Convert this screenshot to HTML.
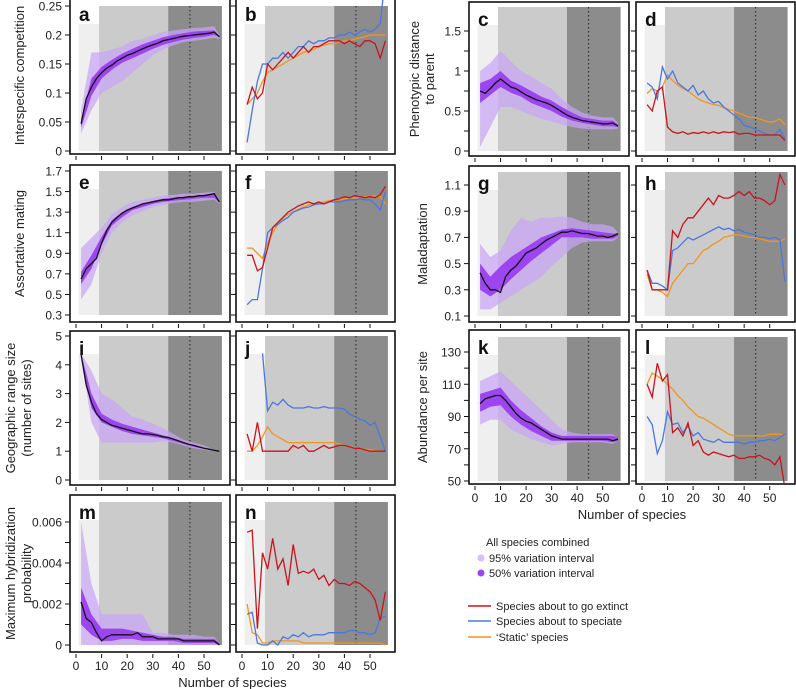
<!DOCTYPE html>
<html><head><meta charset="utf-8"><style>
html,body{margin:0;padding:0;background:#fff;}
svg{display:block;font-family:"Liberation Sans",Arial,sans-serif;}
</style></head><body>
<svg id="fig" width="796" height="689" viewBox="0 0 796 689" xmlns="http://www.w3.org/2000/svg"></svg>
<script>
// ---- data ----
const xs = [2,4,6,8,10,12,14,16,18,20,22,24,26,28,30,32,34,36,38,40,42,44,46,48,50,52,54,56];
const bx = [2,6,10,14,18,22,26,30,34,38,42,46,50,54,56];

const aMean=[.047,.09,.11,.125,.135,.143,.148,.155,.16,.165,.168,.172,.176,.18,.183,.186,.19,.192,.194,.196,.198,.199,.2,.201,.202,.203,.205,.197];
const aLo95=[.03,.07,.1,.11,.12,.135,.15,.165,.175,.182,.188,.19,.192,.195,.193];
const aHi95=[.07,.17,.17,.175,.18,.19,.193,.2,.205,.208,.21,.212,.213,.215,.2];
const aLo50=[.04,.095,.125,.14,.152,.16,.168,.176,.183,.188,.192,.195,.197,.2,.196];
const aHi50=[.055,.125,.145,.157,.168,.176,.184,.19,.196,.2,.203,.206,.207,.208,.198];
const bRed=[.08,.11,.09,.1,.15,.14,.15,.16,.17,.16,.17,.18,.17,.18,.18,.185,.19,.19,.19,.185,.19,.185,.18,.19,.19,.185,.16,.19];
const bBlue=[.015,.07,.12,.15,.15,.16,.16,.17,.16,.17,.18,.18,.19,.185,.19,.19,.195,.195,.2,.2,.205,.2,.205,.21,.205,.21,.22,.3];
const bOrange=[.08,.09,.1,.12,.135,.14,.145,.15,.155,.16,.165,.17,.172,.175,.18,.182,.185,.185,.188,.19,.19,.193,.195,.197,.2,.2,.2,.2];

const cMean=[.75,.72,.78,.85,.9,.85,.8,.78,.74,.7,.67,.64,.62,.6,.57,.53,.49,.45,.42,.4,.38,.37,.36,.35,.34,.34,.35,.31];
const cLo95=[.05,.3,.55,.55,.5,.45,.4,.37,.33,.3,.28,.27,.27,.27,.28];
const cHi95=[1.0,1.1,1.25,1.12,1.0,.93,.85,.78,.65,.55,.48,.44,.42,.42,.35];
const cLo50=[.6,.7,.8,.73,.68,.6,.55,.5,.43,.38,.35,.33,.31,.31,.3];
const cHi50=[.85,.9,1.0,.88,.82,.75,.68,.63,.55,.48,.42,.4,.38,.38,.33];
const dRed=[.58,.5,.75,.8,.3,.24,.22,.24,.21,.23,.22,.24,.22,.24,.22,.24,.23,.24,.21,.22,.22,.2,.2,.2,.2,.2,.2,.13];
const dBlue=[.85,.8,.65,1.05,.9,1.0,.85,.8,.75,.82,.7,.75,.65,.6,.62,.55,.5,.45,.4,.32,.3,.28,.25,.22,.2,.2,.27,.15];
const dOrange=[.72,.78,.75,.8,.95,.88,.82,.78,.75,.7,.65,.62,.6,.58,.57,.54,.52,.5,.47,.45,.42,.42,.4,.38,.36,.37,.4,.33];

const eMean=[.65,.75,.8,.85,1.0,1.12,1.2,1.25,1.29,1.32,1.34,1.36,1.38,1.39,1.4,1.41,1.42,1.42,1.43,1.44,1.44,1.45,1.45,1.46,1.46,1.47,1.48,1.4];
const eLo95=[.45,.6,.9,1.1,1.2,1.27,1.31,1.35,1.37,1.39,1.4,1.4,1.41,1.42,1.38];
const eHi95=[.95,1.05,1.15,1.28,1.35,1.4,1.42,1.44,1.46,1.47,1.48,1.48,1.49,1.5,1.42];
const eLo50=[.6,.75,.98,1.17,1.25,1.32,1.35,1.38,1.4,1.41,1.42,1.43,1.44,1.44,1.39];
const eHi50=[.72,.88,1.06,1.22,1.3,1.35,1.38,1.41,1.43,1.44,1.45,1.46,1.47,1.48,1.41];
const fRed=[.88,.88,.73,.76,.95,1.15,1.2,1.25,1.3,1.33,1.36,1.38,1.4,1.38,1.4,1.38,1.4,1.42,1.43,1.45,1.44,1.46,1.45,1.44,1.45,1.44,1.47,1.55];
const fBlue=[.4,.45,.45,.75,1.1,1.15,1.18,1.22,1.25,1.3,1.32,1.34,1.35,1.37,1.38,1.38,1.4,1.4,1.4,1.41,1.42,1.42,1.43,1.42,1.42,1.38,1.32,1.5];
const fOrange=[.95,.95,.9,.85,1.0,1.1,1.18,1.24,1.28,1.3,1.33,1.35,1.37,1.38,1.39,1.4,1.41,1.42,1.42,1.43,1.44,1.44,1.44,1.45,1.45,1.46,1.45,1.38];

const gMean=[.43,.35,.3,.3,.28,.4,.45,.48,.53,.58,.6,.62,.65,.68,.7,.72,.74,.74,.75,.74,.73,.73,.72,.71,.71,.7,.71,.73];
const gLo95=[.15,.15,.2,.25,.3,.35,.4,.48,.55,.62,.66,.67,.67,.67,.7];
const gHi95=[.65,.55,.6,.75,.85,.82,.85,.85,.86,.85,.82,.8,.8,.78,.74];
const gLo50=[.3,.25,.3,.38,.45,.52,.58,.64,.7,.7,.7,.69,.69,.69,.71];
const gHi50=[.5,.4,.48,.55,.6,.65,.7,.73,.76,.77,.76,.75,.74,.73,.73];
const hRed=[.45,.3,.3,.3,.3,.75,.7,.8,.85,.85,.9,.95,1.0,.95,1.02,1.0,1.0,1.02,1.05,1.02,1.05,1.0,1.0,.98,.95,.98,1.18,1.1];
const hBlue=[.45,.35,.35,.33,.3,.6,.62,.66,.7,.68,.7,.72,.74,.76,.78,.76,.77,.75,.76,.74,.73,.72,.7,.7,.69,.7,.68,.36];
const hOrange=[.42,.3,.3,.28,.25,.35,.4,.45,.5,.5,.55,.6,.62,.65,.67,.7,.71,.72,.72,.71,.7,.7,.69,.68,.67,.67,.67,.69];

const iMean=[4.35,3.3,2.7,2.3,2.1,2.0,1.9,1.85,1.8,1.75,1.7,1.65,1.6,1.6,1.58,1.55,1.5,1.48,1.42,1.36,1.3,1.24,1.2,1.15,1.1,1.07,1.03,1.0];
const iLo95=[4.3,2.0,1.3,1.3,1.3,1.3,1.3,1.3,1.35,1.3,1.2,1.1,1.05,1.0,1.0];
const iHi95=[4.4,3.8,3.0,2.8,2.5,2.2,2.1,1.95,1.8,1.6,1.4,1.3,1.2,1.05,1.0];
const iLo50=[4.3,2.5,2.0,1.85,1.7,1.6,1.55,1.5,1.45,1.35,1.25,1.15,1.08,1.02,1.0];
const iHi50=[4.4,3.0,2.3,2.1,1.95,1.85,1.75,1.65,1.55,1.45,1.3,1.2,1.12,1.04,1.0];
const jRed=[1.6,1.0,2.0,1.0,1.0,1.0,1.0,1.0,1.0,1.2,1.1,1.2,1.0,1.0,1.1,1.2,1.1,1.15,1.2,1.2,1.15,1.1,1.1,1.05,1.0,1.0,1.0,1.0];
const jBlue=[null,null,null,4.4,2.4,2.7,2.6,2.8,2.6,2.5,2.5,2.5,2.55,2.5,2.5,2.55,2.5,2.5,2.5,2.45,2.3,2.2,2.1,2.05,1.9,2.0,1.5,1.0];
const jOrange=[1.0,1.0,1.2,1.5,1.85,1.6,1.5,1.4,1.3,1.3,1.3,1.3,1.3,1.3,1.3,1.3,1.3,1.3,1.25,1.2,1.15,1.12,1.1,1.07,1.05,1.02,1.0,1.0];

const kMean=[98,101,102,103,103,100,96,92,89,87,86,84,82,80,78,77,76,76,76,76,76,76,76,76,76,76,75,76];
const kLo95=[85,88,88,82,79,76,74,72,73,74,74,74,74,73,75];
const kHi95=[112,115,118,112,106,100,94,88,82,80,79,79,79,79,77];
const kLo50=[93,96,97,90,85,81,78,75,75,75,75,75,75,74,75];
const kHi50=[104,106,108,100,94,89,84,80,78,78,78,78,78,78,77];
const lRed=[110,102,123,112,116,80,83,78,86,72,75,68,66,68,67,66,65,66,64,64,65,65,66,64,63,60,65,45];
const lBlue=[90,85,67,75,93,85,86,80,84,78,80,76,75,74,76,74,74,74,74,73,74,74,75,75,76,75,77,79];
const lOrange=[110,117,115,113,110,107,103,100,96,93,90,89,87,85,83,81,79,78,78,78,78,78,78,78,79,79,79,78];

const mMean=[.0021,.0013,.0011,.0006,.0002,.0004,.0005,.0005,.0005,.0005,.0005,.0006,.0004,.0004,.0004,.0003,.0003,.0003,.0003,.0003,.0002,.0002,.0002,.0002,.0002,.0002,.0002,.0];
const mLo95=[0,0,0,0,0,0,0,0,0,0,0,0,0,0,0];
const mHi95=[.006,.003,.0015,.0015,.0015,.0015,.0015,.0006,.0006,.0005,.0005,.0005,.0004,.0004,.0001];
const mLo50=[.001,.0005,.0002,.0002,.0003,.0003,.0002,.0002,.0002,.0002,.0001,.0001,.0001,.0001,0];
const mHi50=[.0028,.0015,.0008,.0008,.0008,.0007,.0006,.0005,.0004,.0004,.0003,.0003,.0003,.0003,.0001];
const nRed=[.0055,.0056,.0008,.0045,.0037,.0052,.0037,.0042,.0029,.0049,.0035,.0036,.0035,.0037,.0032,.0034,.0029,.0032,.003,.003,.0029,.0031,.003,.0028,.0026,.0022,.0012,.0026];
const nBlue=[.0015,.0016,.0001,0,0,.0002,0,.0004,.0003,.0005,.0004,.0006,.0004,.0005,.0005,.0005,.0006,.0006,.0006,.0006,.0007,.0007,.0006,.0006,.0005,.0006,.0013,.0014];
const nOrange=[.002,.0006,.0005,.0001,.0001,.0002,.0002,.0002,.0002,.0002,.0002,.0001,.0001,.0001,.0001,.0001,.0001,.0001,.0001,.0001,.0001,.0001,.0001,.0001,.0001,.0001,.0001,0];

const xTicks=[0,10,20,30,40,50];
const phaseBounds=[1,9,36,57];
const dottedX=44.5;

// ---- rendering ----
const NS="http://www.w3.org/2000/svg";
const svg=document.getElementById('fig');
function el(tag,attrs,parent){const e=document.createElementNS(NS,tag);for(const k in attrs)e.setAttribute(k,attrs[k]);(parent||svg).appendChild(e);return e;}
const fmt=v=>String(v);

const rows=[
 {L:{letter:'a',ft:-3,fb:154,v1:.25,p1:6,v0:0,p0:151,top:6,light:24,ticks:[0,.05,.1,.15,.2,.25],mean:aMean,lo95:aLo95,hi95:aHi95,lo50:aLo50,hi50:aHi50},
  R:{letter:'b',red:bRed,blue:bBlue,orange:bOrange},
  label:['Interspecific competition'],side:'left'},
 {L:{letter:'c',ft:2,fb:156,v1:1.5,p1:31,v0:0,p0:151,top:7,light:25,ticks:[0,.5,1,1.5],minor:[.25,.75,1.25],mean:cMean,lo95:cLo95,hi95:cHi95,lo50:cLo50,hi50:cHi50},
  R:{letter:'d',red:dRed,blue:dBlue,orange:dOrange},
  label:['Phenotypic distance','to parent'],side:'right'},
 {L:{letter:'e',ft:165,fb:322,v1:1.7,p1:171,v0:.3,p0:315,top:171,light:189,ticks:[.3,.5,.7,.9,1.1,1.3,1.5,1.7],mean:eMean,lo95:eLo95,hi95:eHi95,lo50:eLo50,hi50:eHi50},
  R:{letter:'f',red:fRed,blue:fBlue,orange:fOrange},
  label:['Assortative mating'],side:'left'},
 {L:{letter:'g',ft:166,fb:322,v1:1.1,p1:185,v0:.1,p0:316,top:172,light:190,ticks:[.1,.3,.5,.7,.9,1.1],mean:gMean,lo95:gLo95,hi95:gHi95,lo50:gLo50,hi50:gHi50},
  R:{letter:'h',red:hRed,blue:hBlue,orange:hOrange},
  label:['Maladaptation'],side:'right'},
 {L:{letter:'i',ft:331,fb:485,v1:5,p1:336,v0:0,p0:480,top:336,light:354,ticks:[0,1,2,3,4,5],mean:iMean,lo95:iLo95,hi95:iHi95,lo50:iLo50,hi50:iHi50},
  R:{letter:'j',red:jRed,blue:jBlue,orange:jOrange},
  label:['Geographic range size','(number of sites)'],side:'left'},
 {L:{letter:'k',ft:330,fb:484,v1:130,p1:352,v0:50,p0:481,top:337,light:355,ticks:[50,70,90,110,130],minor:[60,80,100,120],mean:kMean,lo95:kLo95,hi95:kHi95,lo50:kLo50,hi50:kHi50},
  R:{letter:'l',red:lRed,blue:lBlue,orange:lOrange},
  label:['Abundance per site'],side:'right',xlabels:true},
 {L:{letter:'m',ft:495,fb:652,v1:.006,p1:522,v0:0,p0:645,top:502,light:520,ticks:[0,.002,.004,.006],minor:[.001,.003,.005],mean:mMean,lo95:mLo95,hi95:mHi95,lo50:mLo50,hi50:mHi50},
  R:{letter:'n',red:nRed,blue:nBlue,orange:nOrange},
  label:['Maximum hybridization','probability'],side:'left',xlabels:true}
];

const colGeom={
 left:{fL:70,fR:230,fL2:236,fR2:395,x0:76,x50:204,off:166,labelX:20,two:[11,27]},
 right:{fL:469,fR:629,fL2:636,fR2:795,x0:475,x50:602.7,off:167,labelX:423,two:[415,430]}
};

let clipId=0;
function drawPanel(cfg,geo,isRight){
  const ps=isRight?cfg.R:cfg.L;
  const L=cfg.L;
  const fL=isRight?geo.fL2:geo.fL, fR=isRight?geo.fR2:geo.fR;
  const x0=geo.x0+(isRight?geo.off:0), x50=geo.x50+(isRight?geo.off:0);
  const X=v=>x0+(v)*(x50-x0)/50;
  const Y=v=>L.p0+(v-L.v0)*(L.p1-L.p0)/(L.v1-L.v0);
  const g=el('g',{});
  
  
  const bot=L.p0;
  const r1=el('rect',{x:X(phaseBounds[0]),y:L.light,width:X(phaseBounds[1])-X(phaseBounds[0]),height:bot-L.light,fill:'#efefef'},g);
   
  const r2=el('rect',{x:X(phaseBounds[1]),y:L.top,width:X(phaseBounds[2])-X(phaseBounds[1]),height:bot-L.top,fill:'#cbcbcb'},g);
   
  const r3=el('rect',{x:X(phaseBounds[2]),y:L.top,width:X(phaseBounds[3])-X(phaseBounds[2]),height:bot-L.top,fill:'#8c8c8c'},g);
   
  const dl=el('line',{x1:X(dottedX),x2:X(dottedX),y1:L.top,y2:bot,stroke:'#222','stroke-width':1,'stroke-dasharray':'1.5,2.5'},g);
   
  const cid='cp'+(clipId++);
  const cp=el('clipPath',{id:cid},g);
  el('rect',{x:fL+1,y:L.ft+1,width:fR-fL-2,height:L.fb-L.ft-2},cp);
  const inner=el('g',{'clip-path':'url(#'+cid+')'},g);
  if(!isRight){
    const band=(lo,hi,fill,name)=>{
      let d='';
      bx.forEach((x,i)=>{d+=(i?'L':'M')+X(x).toFixed(1)+','+Y(hi[i]).toFixed(1);});
      for(let i=bx.length-1;i>=0;i--)d+='L'+X(bx[i]).toFixed(1)+','+Y(lo[i]).toFixed(1);
      const p=el('path',{d:d+'Z',fill:fill},inner);
       
    };
    band(L.lo95,L.hi95,'rgba(200,165,245,0.72)','band-95');
    band(L.lo50,L.hi50,'#9d45f0','band-50');
    const pts=xs.map((x,i)=>X(x).toFixed(1)+','+Y(L.mean[i]).toFixed(1)).join(' ');
    const pl=el('polyline',{points:pts,fill:'none',stroke:'#111','stroke-width':1.3},inner);
     
  } else {
    const line=(arr,col,name)=>{
      let d='',pen=false;
      arr.forEach((v,i)=>{ if(v===null){pen=false;return;} d+=(pen?'L':'M')+X(xs[i]).toFixed(1)+','+Y(v).toFixed(1); pen=true;});
      const p=el('path',{d:d,fill:'none',stroke:col,'stroke-width':1.3},inner);
       
    };
    line(ps.orange,'#f0961e','static-species-line');
    line(ps.blue,'#4a78e0','speciate-line');
    line(ps.red,'#c8141e','extinct-line');
  }
  const t=el('text',{x:fL+9,y:L.ft+24,'font-size':19,'font-weight':'bold',fill:'#111'},g);
  t.textContent=ps.letter;
   
  const fr=el('rect',{x:fL,y:L.ft,width:fR-fL,height:L.fb-L.ft,fill:'none',stroke:'#111','stroke-width':1.6},g);
   
  const allT=L.ticks.concat(L.minor||[]);
  allT.forEach(v=>{ el('line',{x1:fL-5,x2:fL,y1:Y(v),y2:Y(v),stroke:'#111','stroke-width':1},g); });
  if(!isRight){
    L.ticks.forEach(v=>{
      const tt=el('text',{x:fL-8,y:Y(v)+4.5,'font-size':12,'text-anchor':'end',fill:'#222'},g);
      tt.textContent=fmt(v);
       
    });
  }
  xTicks.forEach(v=>{
    el('line',{x1:X(v),x2:X(v),y1:L.fb+2,y2:L.fb+6,stroke:'#111','stroke-width':1},g);
    if(cfg.xlabels){
      const tt=el('text',{x:X(v),y:L.fb+18,'font-size':12,'text-anchor':'middle',fill:'#222'},g);
      tt.textContent=v;
       
    }
  });
  return {fL,fR,fb:L.fb,ft:L.ft};
}

rows.forEach(cfg=>{
  const geo=colGeom[cfg.side];
  const a=drawPanel(cfg,geo,false);
  const b=drawPanel(cfg,geo,true);
  const cy=(cfg.L.ft+cfg.L.fb)/2;
  const n=cfg.label.length;
  cfg.label.forEach((s,i)=>{
    const lx=n===2?geo.two[i]+4:geo.labelX+4;
    const tt=el('text',{x:lx,y:cy,'font-size':13,'text-anchor':'middle',fill:'#222',transform:'rotate(-90 '+lx+' '+cy+')'});
    tt.textContent=s;
     
  });
  if(cfg.xlabels){
    const tt=el('text',{x:(a.fL+b.fR)/2,y:cfg.L.fb+35,'font-size':13,'text-anchor':'middle',fill:'#222'});
    tt.textContent='Number of species';
     
  }
});

const lg=el('g',{});
 
const lt=el('text',{x:486,y:546,'font-size':11,fill:'#222'},lg); lt.textContent='All species combined';
 
[['95% variation interval','rgba(200,165,245,0.72)',558,'legend-95'],['50% variation interval','#9d45f0',573,'legend-50']].forEach(r=>{
  const c=el('circle',{cx:481,cy:r[2],r:3.5,fill:r[1]},lg);
   
  const t=el('text',{x:489,y:r[2]+4,'font-size':11,fill:'#222'},lg); t.textContent=r[0];
   
});
[['Species about to go extinct','#c8141e',606,'legend-extinct'],['Species about to speciate','#4a78e0',621,'legend-speciate'],['\u2018Static\u2019 species','#f0961e',637,'legend-static']].forEach(r=>{
  const l=el('line',{x1:468,x2:491,y1:r[2],y2:r[2],stroke:r[1],'stroke-width':1.5},lg);
   
  const t=el('text',{x:496,y:r[2]+4,'font-size':11,fill:'#222'},lg); t.textContent=r[0];
   
});
</script>
</body></html>
